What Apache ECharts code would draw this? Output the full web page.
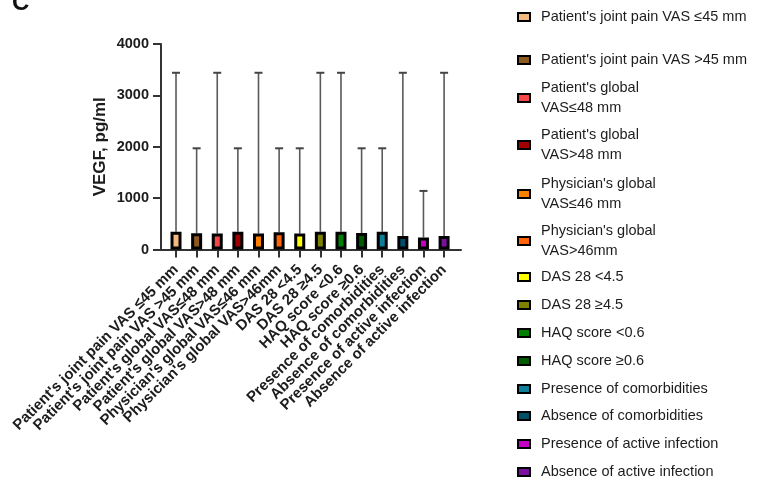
<!DOCTYPE html>
<html>
<head>
<meta charset="utf-8">
<script src="https://cdn.jsdelivr.net/npm/echarts@6/dist/echarts.min.js"></script>
<style>
  html, body { margin: 0; padding: 0; background: #fff; }
  #chart { width: 772px; height: 480px; }
</style>
</head>
<body>
<div id="chart"></div>
<script>
// Subgroups of patients
const categories = [
  "Patient's joint pain VAS ≤45 mm",
  "Patient's joint pain VAS >45 mm",
  "Patient's global VAS≤48 mm",
  "Patient's global VAS>48 mm",
  "Physician's global VAS≤46 mm",
  "Physician's global VAS>46mm",
  "DAS 28 <4.5",
  "DAS 28 ≥4.5",
  "HAQ score <0.6",
  "HAQ score ≥0.6",
  "Presence of comorbidities",
  "Absence of comorbidities",
  "Presence of active infection",
  "Absence of active infection"
];

// Legend wording (wrapped where the legend breaks lines)
const legendLabels = [
  "Patient's joint pain VAS ≤45 mm",
  "Patient's joint pain VAS >45 mm",
  "Patient's global\nVAS≤48 mm",
  "Patient's global\nVAS>48 mm",
  "Physician's global\nVAS≤46 mm",
  "Physician's global\nVAS>46mm",
  "DAS 28 <4.5",
  "DAS 28 ≥4.5",
  "HAQ score <0.6",
  "HAQ score ≥0.6",
  "Presence of comorbidities",
  "Absence of comorbidities",
  "Presence of active infection",
  "Absence of active infection"
];

// VEGF, pg/ml: bar height and upper whisker
const medianValues = [345, 315, 310, 345, 310, 335, 310, 345, 345, 320, 345, 265, 235, 265];
const upperValues  = [3440, 1970, 3440, 1970, 3440, 1970, 1970, 3440, 3440, 1970, 1970, 3440, 1140, 3440];

const yTicks = [0, 1000, 2000, 3000, 4000];

const barColors = [
  '#F4B97F', '#8C5A1E', '#F44848', '#A00000', '#FF8000', '#FF6408', '#FFFF00',
  '#808000', '#008000', '#005A00', '#0E7E9A', '#004E68', '#C400C4', '#7A10A0'
];

// legend item vertical centres (layout only)
const legendCenters = [17, 60, 98, 145, 194, 241, 277, 305, 333, 361, 389, 416, 444, 472];

const FONT = "'Liberation Sans', Arial, sans-serif";
const INK = '#1c1c1c';
const AXIS = '#333';

const chart = echarts.init(document.getElementById('chart'), null, { renderer: 'canvas' });

const barSeries = categories.map((name, i) => ({
  type: 'bar',
  name: name,
  xAxisIndex: 1,
  yAxisIndex: 1,
  stack: 'groups',
  barWidth: 11,
  z: 3,
  itemStyle: { color: barColors[i], borderColor: '#000', borderWidth: 3 },
  data: categories.map((c, j) => (j === i ? medianValues[i] : '-'))
}));

const errorSeries = {
  type: 'custom',
  name: 'range',
  xAxisIndex: 1,
  yAxisIndex: 1,
  z: 2,
  silent: true,
  data: categories.map((c, i) => [i, medianValues[i], upperValues[i]]),
  renderItem: function (params, api) {
    const base = api.coord([api.value(0), api.value(1)]);
    const top = api.coord([api.value(0), api.value(2)]);
    const capHalf = 4;
    const style = { stroke: '#5a5a5a', lineWidth: 1.6 };
    return {
      type: 'group',
      children: [
        { type: 'line', shape: { x1: base[0], y1: base[1], x2: top[0], y2: top[1] }, style: style },
        { type: 'line', shape: { x1: top[0] - capHalf, y1: top[1], x2: top[0] + capHalf, y2: top[1] }, style: { stroke: '#444', lineWidth: 2 } }
      ]
    };
  }
};

const legends = categories.map((name, i) => {
  const lines = legendLabels[i].split('\n').length;
  const h = lines * 20;
  return {
    data: [name],
    left: 517,
    top: legendCenters[i] - h / 2,
    padding: 0,
    orient: 'vertical',
    icon: 'rect',
    itemWidth: 12,
    itemHeight: 8,
    itemStyle: { borderColor: '#000', borderWidth: 2 },
    selectedMode: false,
    formatter: () => legendLabels[i],
    textStyle: {
      fontFamily: FONT,
      fontSize: 14.5,
      color: INK,
      lineHeight: 20,
      padding: [0, 0, 0, 6]
    }
  };
});

const option = {
  backgroundColor: '#fff',
  animation: false,
  title: {
    text: 'C',
    left: 12,
    top: -9,
    padding: 0,
    textStyle: { fontFamily: FONT, fontSize: 24, fontWeight: 'bold', color: '#111' }
  },
  legend: legends,
  grid: [
    { left: 161, top: 44, width: 300, height: 205.5 },
    { left: 165.7, top: 44, width: 288.7, height: 205.5 }
  ],
  xAxis: [
    {
      type: 'value',
      gridIndex: 0,
      min: 0,
      max: 1,
      axisLine: { show: true, onZero: false, lineStyle: { color: AXIS, width: 2 } },
      axisTick: { show: false },
      axisLabel: { show: false },
      splitLine: { show: false }
    },
    {
      type: 'category',
      gridIndex: 1,
      data: categories,
      boundaryGap: true,
      axisLine: { show: false },
      axisTick: { show: true, alignWithLabel: true, length: 8, lineStyle: { color: AXIS, width: 2 } },
      axisLabel: {
        interval: 0,
        rotate: 45,
        margin: 18,
        fontFamily: FONT,
        fontSize: 15,
        fontWeight: 'bold',
        color: INK
      },
      splitLine: { show: false }
    }
  ],
  yAxis: [
    {
      type: 'value',
      gridIndex: 0,
      min: yTicks[0],
      max: yTicks[yTicks.length - 1],
      interval: yTicks[1] - yTicks[0],
      name: 'VEGF, pg/ml',
      nameLocation: 'middle',
      nameGap: 52,
      nameTextStyle: { fontFamily: FONT, fontSize: 17, fontWeight: 'bold', color: INK },
      axisLine: { show: true, lineStyle: { color: AXIS, width: 2 } },
      axisTick: { show: true, length: 8, lineStyle: { color: AXIS, width: 2 } },
      axisLabel: {
        fontFamily: FONT, fontSize: 14.5, fontWeight: 'bold', color: INK, margin: 12,
        formatter: (v) => String(v)
      },
      splitLine: { show: false }
    },
    {
      type: 'value',
      gridIndex: 1,
      min: yTicks[0],
      max: yTicks[yTicks.length - 1],
      show: false,
      splitLine: { show: false }
    }
  ],
  series: [errorSeries].concat(barSeries)
};

chart.setOption(option);
</script>
</body>
</html>
